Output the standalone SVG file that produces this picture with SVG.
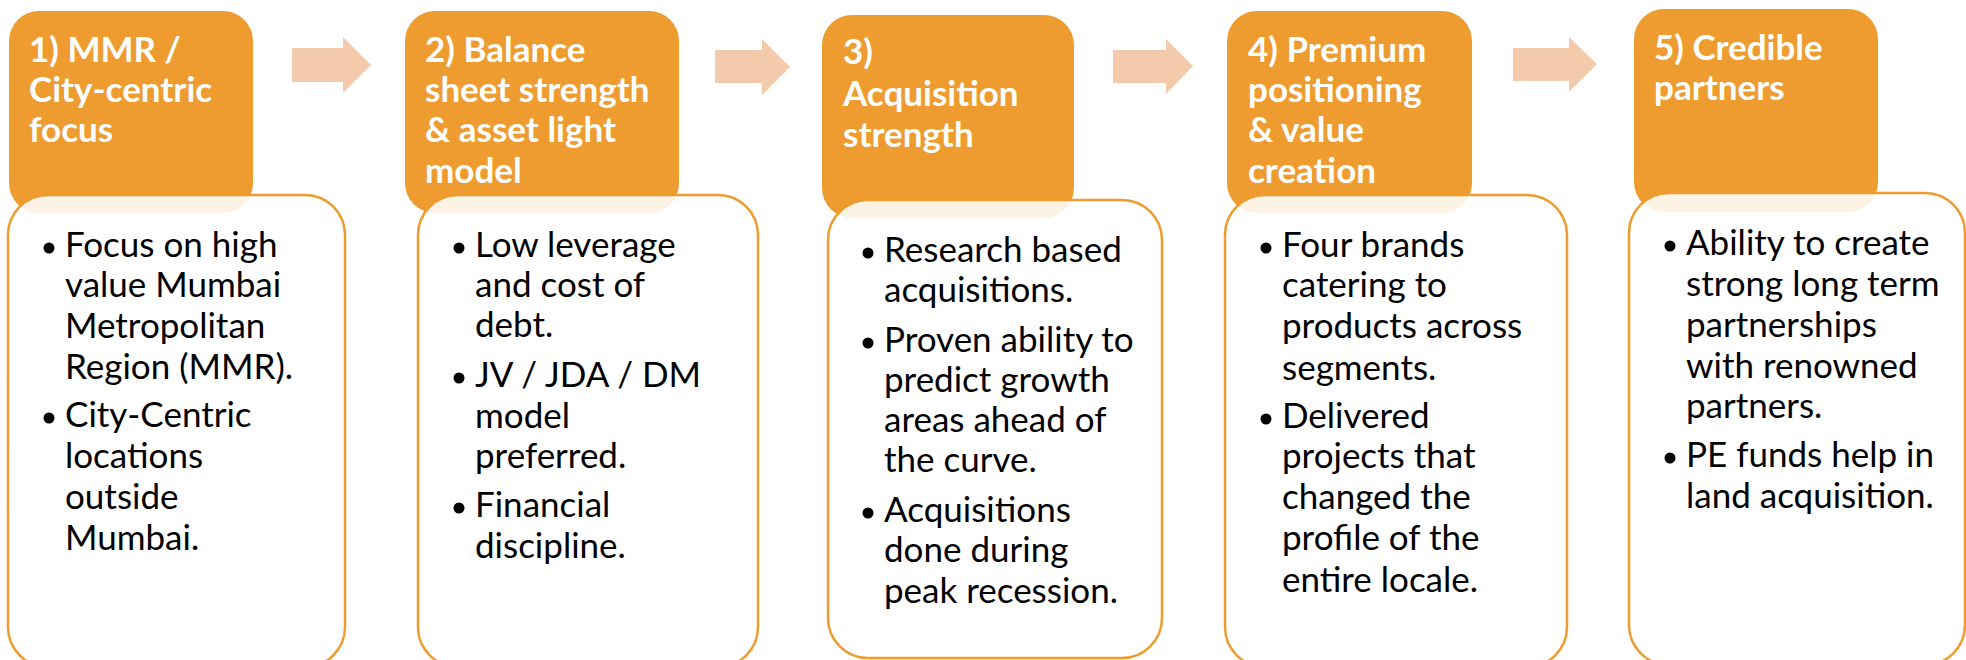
<svg xmlns="http://www.w3.org/2000/svg" width="1966" height="660" viewBox="0 0 1966 660">
<style>
.hd{fill:#EE9C2F;}
.bd{fill:#FFFFFF;fill-opacity:0.88;stroke:#EE9C2F;stroke-width:2.5;}
.tt{font-family:Lato,"Open Sans","Liberation Sans",sans-serif;font-weight:bold;font-size:35px;fill:#FFFFFF;}
.tx{font-family:Lato,"Open Sans","Liberation Sans",sans-serif;font-size:35px;fill:#000000;}
.dot{fill:#000000;}
.arr{fill:#F4CAAC;}
</style>
<rect width="1966" height="660" fill="#FFFFFF"/>
<g id="connectors">
<polygon class="arr" points="292,48 343,48 343,37 371,65 343,93 343,82 292,82"/>
<polygon class="arr" points="715,50 762,50 762,39 790,67 762,95 762,83 715,83"/>
<polygon class="arr" points="1113,50 1166,50 1166,39 1193,66 1166,94 1166,83 1113,83"/>
<polygon class="arr" points="1513,48 1569,48 1569,37 1597,64 1569,92 1569,81 1513,81"/>
</g>
<g id="node1">
<rect class="hd" x="9" y="11" width="244" height="202" rx="30"/>
<rect class="bd" x="8" y="195" width="337" height="472" rx="40"/>
<text class="tt"><tspan x="29" y="62">1) MMR /</tspan><tspan x="29" y="102">City-centric</tspan><tspan x="29" y="142">focus</tspan></text>
<circle class="dot" cx="49" cy="248" r="5.5"/>
<circle class="dot" cx="49" cy="418" r="5.5"/>
<text class="tx"><tspan x="65" y="257">Focus on high</tspan><tspan x="65" y="297">value Mumbai</tspan><tspan x="65" y="338">Metropolitan</tspan><tspan x="65" y="379">Region (MMR).</tspan><tspan x="65" y="427">City-Centric</tspan><tspan x="65" y="468">locations</tspan><tspan x="65" y="509">outside</tspan><tspan x="65" y="550">Mumbai.</tspan></text>
</g>
<g id="node2">
<rect class="hd" x="405" y="11" width="274" height="202" rx="30"/>
<rect class="bd" x="418" y="195" width="340" height="472" rx="40"/>
<text class="tt"><tspan x="425" y="62">2) Balance</tspan><tspan x="425" y="102">sheet strength</tspan><tspan x="425" y="142">&amp; asset light</tspan><tspan x="425" y="183">model</tspan></text>
<circle class="dot" cx="459" cy="248" r="5.5"/>
<circle class="dot" cx="459" cy="378" r="5.5"/>
<circle class="dot" cx="459" cy="508" r="5.5"/>
<text class="tx"><tspan x="475" y="257">Low leverage</tspan><tspan x="475" y="297">and cost of</tspan><tspan x="475" y="337">debt.</tspan><tspan x="475" y="387">JV / JDA / DM</tspan><tspan x="475" y="428">model</tspan><tspan x="475" y="468">preferred.</tspan><tspan x="475" y="517">Financial</tspan><tspan x="475" y="558">discipline.</tspan></text>
</g>
<g id="node3">
<rect class="hd" x="822" y="15" width="252" height="203" rx="30"/>
<rect class="bd" x="828" y="200" width="334" height="458" rx="40"/>
<text class="tt"><tspan x="843" y="64">3)</tspan><tspan x="843" y="106">Acquisition</tspan><tspan x="843" y="147">strength</tspan></text>
<circle class="dot" cx="868" cy="253" r="5.5"/>
<circle class="dot" cx="868" cy="343" r="5.5"/>
<circle class="dot" cx="868" cy="513" r="5.5"/>
<text class="tx"><tspan x="884" y="262">Research based</tspan><tspan x="884" y="302">acquisitions.</tspan><tspan x="884" y="352">Proven ability to</tspan><tspan x="884" y="392">predict growth</tspan><tspan x="884" y="432">areas ahead of</tspan><tspan x="884" y="472">the curve.</tspan><tspan x="884" y="522">Acquisitions</tspan><tspan x="884" y="562">done during</tspan><tspan x="884" y="603">peak recession.</tspan></text>
</g>
<g id="node4">
<rect class="hd" x="1227" y="11" width="245" height="202" rx="30"/>
<rect class="bd" x="1225" y="195" width="342" height="472" rx="40"/>
<text class="tt"><tspan x="1248" y="62">4) Premium</tspan><tspan x="1248" y="102">positioning</tspan><tspan x="1248" y="142">&amp; value</tspan><tspan x="1248" y="183">creation</tspan></text>
<circle class="dot" cx="1266" cy="248" r="5.5"/>
<circle class="dot" cx="1266" cy="419" r="5.5"/>
<text class="tx"><tspan x="1282" y="257">Four brands</tspan><tspan x="1282" y="297">catering to</tspan><tspan x="1282" y="338">products across</tspan><tspan x="1282" y="380">segments.</tspan><tspan x="1282" y="428">Delivered</tspan><tspan x="1282" y="468">projects that</tspan><tspan x="1282" y="509">changed the</tspan><tspan x="1282" y="550">profile of the</tspan><tspan x="1282" y="592">entire locale.</tspan></text>
</g>
<g id="node5">
<rect class="hd" x="1634" y="9" width="244" height="203" rx="30"/>
<rect class="bd" x="1629" y="193" width="336" height="472" rx="40"/>
<text class="tt"><tspan x="1654" y="60">5) Credible</tspan><tspan x="1654" y="100">partners</tspan></text>
<circle class="dot" cx="1670" cy="246" r="5.5"/>
<circle class="dot" cx="1670" cy="458" r="5.5"/>
<text class="tx"><tspan x="1686" y="255">Ability to create</tspan><tspan x="1686" y="296">strong long term</tspan><tspan x="1686" y="337">partnerships</tspan><tspan x="1686" y="378">with renowned</tspan><tspan x="1686" y="418">partners.</tspan><tspan x="1686" y="467">PE funds help in</tspan><tspan x="1686" y="508">land acquisition.</tspan></text>
</g>
</svg>
